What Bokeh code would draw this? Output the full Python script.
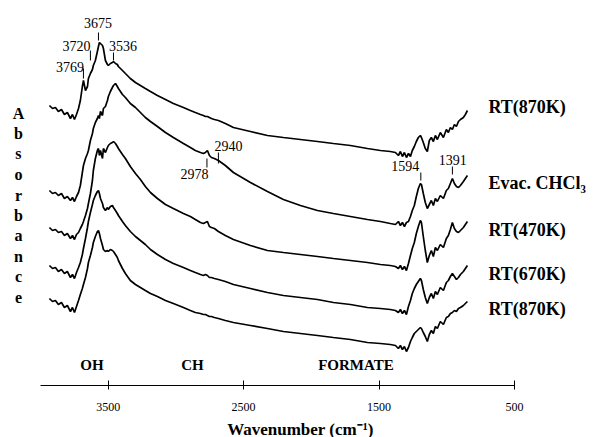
from bokeh.plotting import figure
from bokeh.models import Range1d, FixedTicker
from bokeh.embed import file_html
from bokeh.resources import INLINE
from bokeh.core.properties import value

# ---- data: wavenumber grid (cm-1) and offset absorbance (arbitrary units) ----
wavenumber = [3995, 3975, 3956, 3937, 3917, 3898, 3879, 3859, 3846, 3833,
              3820, 3807, 3795, 3782, 3775, 3762, 3749, 3743, 3730, 3717,
              3711, 3698, 3685, 3678, 3672, 3665, 3652, 3646, 3633, 3620,
              3614, 3601, 3588, 3581, 3568, 3556, 3549, 3536, 3523, 3504,
              3472, 3439, 3407, 3375, 3342, 3297, 3245, 3194, 3129, 3084,
              3052, 3019, 3000, 2987, 2974, 2961, 2948, 2929, 2903, 2858,
              2806, 2696, 2586, 2483, 2373, 2263, 2160, 2050, 1940, 1856,
              1792, 1759, 1740, 1727, 1714, 1701, 1688, 1675, 1662, 1650,
              1637, 1624, 1611, 1598, 1591, 1579, 1566, 1553, 1540, 1527,
              1514, 1501, 1488, 1469, 1449, 1430, 1417, 1404, 1391, 1378,
              1365, 1352, 1339, 1320, 1307, 1294]

rt870_first = [280, 277, 278, 274, 276, 271, 273, 267, 271, 266,
               271, 277, 285, 299, 305, 295, 299, 307, 312, 316,
               320, 325, 334, 339, 343, 342, 340, 337, 325, 321,
               320, 322, 323, 324, 322, 321, 319, 317, 315, 312,
               307, 303, 300, 297, 294, 290, 286, 282, 278, 275,
               273, 271, 270, 269, 269, 268, 267, 266, 265, 262,
               258, 254, 250, 248, 246, 244, 242, 240, 237, 235,
               234, 233, 230, 234, 229, 233, 228, 232, 229, 235,
               239, 244, 248, 250, 248, 243, 237, 234, 245, 248,
               244, 250, 246, 253, 248, 256, 253, 258, 256, 261,
               259, 264, 266, 268, 271, 275]

evac_chcl3 = [195, 192, 193, 190, 192, 187, 189, 185, 188, 184,
              189, 193, 200, 213, 220, 227, 232, 235, 245, 252,
              257, 263, 267, 270, 267, 274, 270, 277, 279, 285,
              289, 294, 298, 300, 302, 299, 297, 294, 291, 288,
              282, 278, 273, 268, 264, 259, 253, 248, 242, 238,
              235, 233, 232, 233, 235, 230, 228, 227, 225, 220,
              213, 203, 194, 186, 180, 175, 172, 169, 166, 164,
              162, 161, 164, 160, 163, 159, 163, 164, 169, 175,
              180, 189, 197, 202, 201, 192, 183, 177, 181, 185,
              180, 187, 184, 190, 187, 195, 197, 202, 207, 202,
              199, 198, 200, 204, 207, 210]

rt470 = [158, 155, 156, 153, 154, 150, 152, 147, 150, 146,
         151, 153, 157, 161, 164, 170, 177, 182, 192, 205,
         215, 227, 235, 237, 230, 235, 227, 237, 233, 238,
         240, 242, 243, 244, 242, 239, 237, 234, 231, 227,
         219, 212, 206, 199, 193, 187, 181, 177, 172, 169,
         166, 163, 162, 163, 164, 159, 158, 157, 154, 150,
         146, 140, 135, 133, 131, 129, 127, 125, 123, 121,
         120, 119, 117, 120, 116, 119, 115, 122, 130, 137,
         143, 152, 159, 165, 163, 149, 135, 123, 130, 135,
         129, 138, 135, 141, 138, 147, 150, 156, 163, 157,
         154, 153, 155, 158, 161, 164]

rt670 = [120, 117, 118, 114, 116, 112, 114, 108, 111, 107,
         113, 118, 123, 131, 137, 147, 158, 164, 173, 181,
         185, 190, 194, 195, 192, 187, 182, 178, 175, 178,
         176, 179, 180, 178, 175, 172, 170, 167, 164, 160,
         154, 149, 145, 141, 136, 131, 126, 122, 118, 115,
         113, 111, 110, 111, 110, 108, 108, 107, 106, 104,
         101, 97, 93, 90, 88, 86, 83, 81, 78, 77,
         76, 75, 73, 76, 72, 75, 71, 79, 85, 92,
         97, 101, 104, 107, 105, 96, 88, 82, 88, 92,
         87, 94, 91, 98, 95, 103, 105, 109, 112, 109,
         106, 108, 111, 114, 117, 120]

rt870_last = [87, 84, 85, 81, 83, 78, 80, 74, 78, 73,
              79, 85, 91, 97, 101, 108, 117, 123, 130, 138,
              143, 149, 154, 155, 152, 147, 140, 136, 134, 135,
              134, 136, 135, 134, 131, 128, 125, 121, 117, 112,
              105, 101, 98, 95, 92, 89, 85, 82, 78, 75,
              73, 72, 71, 71, 70, 69, 69, 68, 67, 65,
              63, 60, 57, 54, 52, 50, 48, 46, 43, 42,
              41, 40, 37, 40, 36, 39, 34, 38, 44, 48,
              52, 54, 56, 58, 57, 53, 49, 44, 51, 55,
              52, 59, 57, 64, 61, 68, 69, 72, 73, 75,
              74, 77, 78, 80, 82, 84]

spectra = [rt870_first, evac_chcl3, rt470, rt670, rt870_last]
spectrum_names = ["RT(870K)", "Evac. CHCl\u2083", "RT(470K)", "RT(670K)", "RT(870K)"]
spectrum_label_y = [279, 203, 156, 112, 77]

axis_ticks = [3500, 2500, 1500, 500]

peak_labels = ["3769", "3720", "3675", "3536", "2978", "2940", "1594", "1391"]
peak_tick_x = [3775, 3730, 3678, 3581, 2977, 2903, 1595, 1391]
peak_tick_lo = [307, 325, 345, 325, 218, 222, 205, 211]
peak_tick_hi = [317, 335, 353, 333, 227, 233, 213, 219]
peak_text_x = [3862, 3820, 3681, 3520, 3058, 2838, 1695, 1388]
peak_text_y = [319, 340, 363, 340, 212, 240, 220, 226]

band_labels = ["OH", "CH", "FORMATE"]
band_x = [3720, 3071, 2014]

ylabel_letters = list("Absorbance")
ylabel_y = [272, 252, 232, 211, 190, 170, 150, 129, 109, 88]

SERIF = "Liberation Serif"

# frame spans the full width; the drawn axis line is limited with bounds
p = figure(width=600, height=447, output_backend="svg", toolbar_location=None,
           x_range=Range1d(4295, -135), y_range=Range1d(0, 385),
           y_axis_location=None, x_axis_location="below")
p.extra_x_ranges = {"spec": Range1d(4311, 434)}
p.min_border_left = 0
p.min_border_right = 0
p.min_border_top = 0
p.min_border_bottom = 62
p.outline_line_color = None
p.grid.visible = False
p.background_fill_color = "white"
p.border_fill_color = "white"

ax = p.xaxis[0]
ax.bounds = (4000, 500)
ax.ticker = FixedTicker(ticks=axis_ticks)
ax.major_tick_in = 5
ax.major_tick_out = 4
ax.minor_tick_in = 0
ax.minor_tick_out = 0
ax.axis_line_color = "black"
ax.major_tick_line_color = "black"
ax.major_label_text_font = SERIF
ax.major_label_text_font_size = "12px"
ax.major_label_text_font_style = "normal"
ax.major_label_text_color = "black"
ax.major_label_standoff = 13
ax.axis_label = "Wavenumber (cm\u207b\u00b9)"
ax.axis_label_text_font = SERIF
ax.axis_label_text_font_style = "bold"
ax.axis_label_text_font_size = "17px"
ax.axis_label_text_color = "black"
ax.axis_label_standoff = 6

for s in spectra:
    p.line(wavenumber, s, x_range_name="spec", line_color="black", line_width=1.7)

p.segment(x0=peak_tick_x, y0=peak_tick_lo, x1=peak_tick_x, y1=peak_tick_hi,
          x_range_name="spec", line_color="black", line_width=1)
p.text(x=peak_text_x, y=peak_text_y, text=peak_labels, x_range_name="spec",
       text_font=value(SERIF), text_font_size=value("14px"), text_color="black",
       text_align="center", text_baseline="middle")

p.text(x=band_x, y=[21] * len(band_x), text=band_labels, x_range_name="spec",
       text_font=value(SERIF), text_font_size=value("15px"), text_font_style="bold",
       text_color="black", text_align="center", text_baseline="middle")

p.text(x=[1158] * len(spectrum_names), y=spectrum_label_y, text=spectrum_names,
       x_range_name="spec", text_font=value(SERIF), text_font_size=value("18px"),
       text_font_style="bold", text_color="black", text_align="left",
       text_baseline="middle")

p.text(x=[4195] * len(ylabel_letters), y=ylabel_y, text=ylabel_letters,
       x_range_name="spec", text_font=value(SERIF), text_font_size=value("16px"),
       text_font_style="bold", text_color="black", text_align="center",
       text_baseline="middle")

open("out.html", "w").write(file_html(p, INLINE))
